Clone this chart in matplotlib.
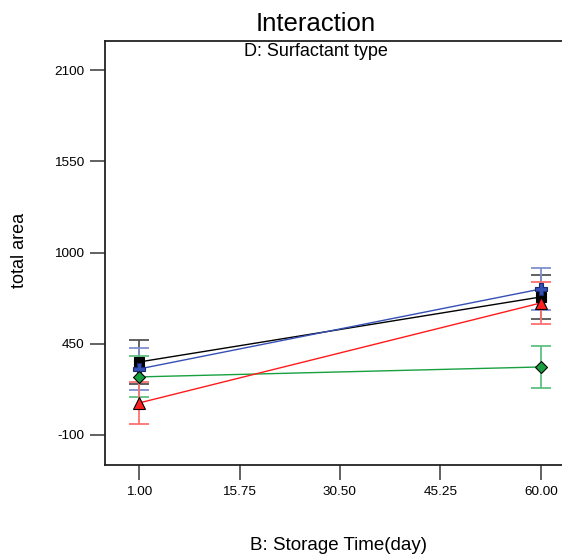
import matplotlib
matplotlib.use("Agg")
import matplotlib.pyplot as plt

plt.rcParams['font.family'] = ['Liberation Sans', 'DejaVu Sans']

# Data
storage_time = [1.00, 60.00]
x_ticks = [1.00, 15.75, 30.50, 45.25, 60.00]
x_tick_labels = ["1.00", "15.75", "30.50", "45.25", "60.00"]
y_ticks = [-100, 450, 1000, 1550, 2100]

black_vals = [340, 732]
blue_vals = [298, 780]
green_vals = [250, 310]
red_vals = [93, 696]
black_err = [133, 133]
blue_err = [124, 124]
green_err = [124, 124]
red_err = [124, 124]

fig = plt.figure(figsize=(5.62, 5.56), dpi=100)
ax = fig.add_axes([105/562, 1-465/556, 1-105/562, (465-41)/556])

styles = [
    (black_vals, black_err, '#000000', '#555555', 's', '#000000', 7),
    (blue_vals, blue_err, '#3550b5', '#8090d0', 'P', '#3550b5', 8),
    (green_vals, green_err, '#18a040', '#60c080', 'D', '#18a040', 6),
    (red_vals, red_err, '#ff1a1a', '#ff7070', '^', '#ff2020', 8),
]

for vals, err, lc, ec, mk, fc, ms in styles:
    ax.errorbar(storage_time, vals, yerr=err, fmt='none', ecolor=ec,
                elinewidth=1.3, capsize=7.5, capthick=1.3, zorder=2)
for vals, err, lc, ec, mk, fc, ms in styles:
    ax.plot(storage_time, vals, color=lc, lw=1.0, zorder=3)
for vals, err, lc, ec, mk, fc, ms in styles:
    ax.plot(storage_time, vals, linestyle='none', marker=mk, markersize=ms,
            markerfacecolor=fc, markeredgecolor='#000000' if mk != 'P' else '#1a2a70',
            markeredgewidth=0.8, zorder=4)

ax.set_xlim(-4.0, 63.1)
ax.set_ylim(-281, 2275)
ax.set_xticks(x_ticks)
ax.set_xticklabels(x_tick_labels)
ax.set_yticks(y_ticks)
ax.set_yticklabels([str(v) for v in y_ticks])
ax.tick_params(axis='both', direction='out', length=11, width=1.3,
               color='#555555', labelsize=9.7, pad=4)
ax.spines['right'].set_visible(False)
for s in ['left', 'bottom', 'top']:
    ax.spines[s].set_linewidth(1.3)
    ax.spines[s].set_color('#222222')

fig.text(316/562, 1-24/556, "Interaction", ha='center', va='center', fontsize=18.5)
fig.text(316/562, 1-52/556, "D: Surfactant type", ha='center', va='center', fontsize=13)
fig.text(339/562, 1-545/556, "B: Storage Time(day)", ha='center', va='center', fontsize=13.5)
fig.text(19/562, 1-250/556, "total area", ha='center', va='center', rotation=90, fontsize=13)

fig.savefig("out.png", dpi=100)
